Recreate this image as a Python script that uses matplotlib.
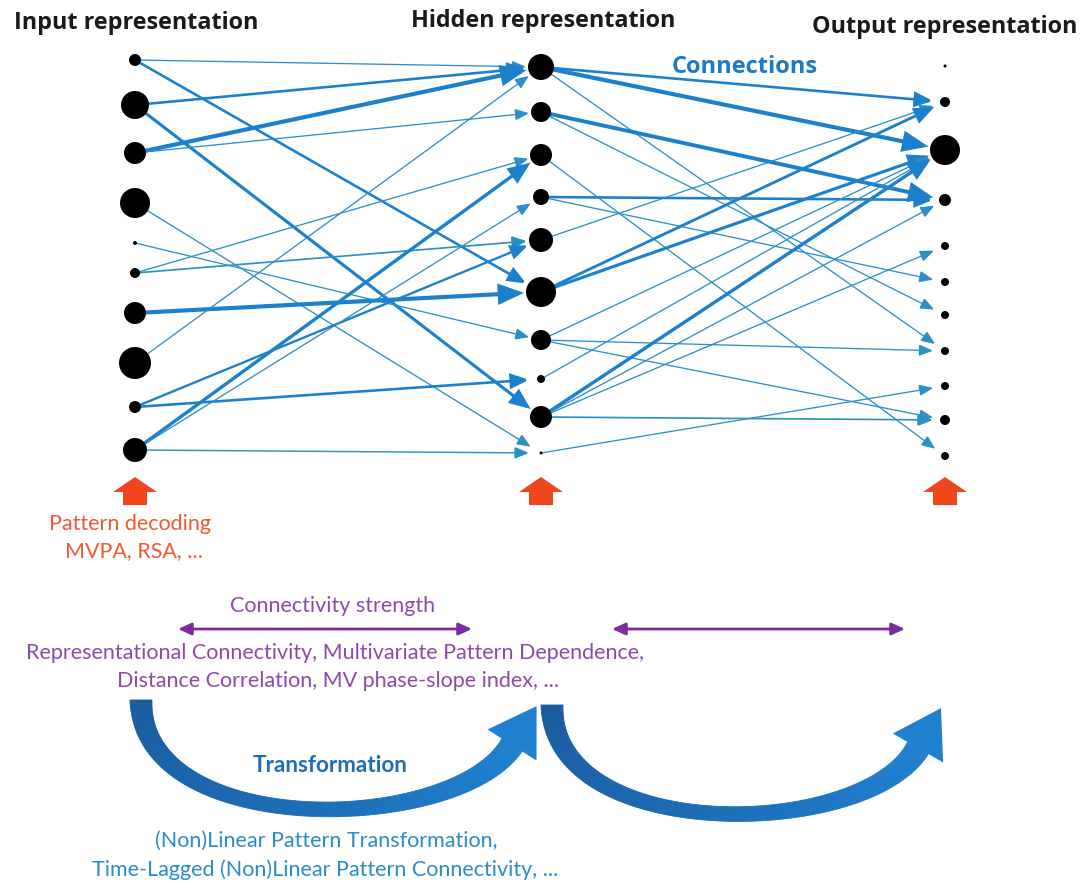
import numpy as np
import matplotlib
matplotlib.use("Agg")
import matplotlib.pyplot as plt
from matplotlib.patches import FancyArrowPatch, FancyArrow, Polygon
from matplotlib.collections import PolyCollection
from matplotlib.colors import to_rgb

# ---------------- data ----------------
layer_titles = ["Input representation", "Hidden representation", "Output representation"]

# node vertical positions and activation (node radius)
input_pos = [60, 105, 153, 203, 243, 273, 313, 363, 407, 450]
input_act = [6, 14, 11, 15, 2, 5, 11, 16, 6, 12]
hidden_pos = [67, 112, 155, 197, 240, 292, 340, 379, 417, 453]
hidden_act = [13, 10, 11, 8, 12, 15, 10, 4, 11, 1.5]
output_pos = [66, 102, 150, 200, 246, 282, 315, 351, 386, 420, 456]
output_act = [1.5, 5, 15, 6, 4, 4, 4, 4, 4, 5, 4]

# connections: (source index, target index, strength)
edges_in_hid = [(0, 0, 1), (0, 5, 2), (1, 0, 2), (1, 8, 2.4), (2, 0, 3.2), (2, 1, 1),
                (3, 9, 1), (4, 6, 1), (5, 2, 1), (5, 4, 1.3), (6, 5, 3.2), (7, 0, 1),
                (8, 4, 1.8), (8, 7, 2), (9, 2, 2.6), (9, 3, 1), (9, 9, 1.1)]
edges_hid_out = [(0, 1, 2), (0, 2, 3.2), (0, 7, 1), (1, 3, 3), (1, 6, 1), (2, 10, 1),
                 (3, 3, 2), (3, 5, 1), (4, 1, 1), (5, 1, 2.2), (5, 2, 2.4), (6, 2, 1),
                 (6, 7, 1), (6, 9, 1), (7, 2, 1), (8, 2, 2.6), (8, 3, 1), (8, 4, 1),
                 (8, 9, 1.3), (9, 8, 1)]

decoding_lines = ["Pattern decoding", "MVPA, RSA, ..."]
strength_title = "Connectivity strength"
strength_lines = ["Representational Connectivity, Multivariate Pattern Dependence,",
                  "Distance Correlation, MV phase-slope index, ..."]
transform_title = "Transformation"
transform_lines = ["(Non)Linear Pattern Transformation,",
                   "Time-Lagged (Non)Linear Pattern Connectivity, ..."]
connections_label = "Connections"

# ---------------- layout / style ----------------
W, H = 1081, 888
PT = 0.72  # points per pixel at dpi 100
LAYER_X = [135, 541, 945]
EDGE_COL = "#1c80cc"
THIN_COL = "#2b8fc8"

fig = plt.figure(figsize=(W / 100, H / 100), dpi=100)
ax = fig.add_axes([0, 0, 1, 1])
ax.set_xlim(0, W)
ax.set_ylim(H, 0)
ax.axis("off")

layers = [(input_pos, input_act), (hidden_pos, hidden_act), (output_pos, output_act)]


def draw_edges(edges, li):
    src_pos, _ = layers[li]
    dst_pos, dst_act = layers[li + 1]
    x0, x1 = LAYER_X[li], LAYER_X[li + 1]
    for s, d, w in edges:
        lw_px = 1.3 * w
        hl = (8.5 + 3.2 * w) * PT
        hw = (3.5 + 1.3 * w) * PT
        shrink = max(12, dst_act[d] + 2) * PT
        col = THIN_COL if w < 1.5 else EDGE_COL
        ar = FancyArrowPatch((x0, src_pos[s]), (x1, dst_pos[d]),
                             arrowstyle=f"-|>,head_length={hl},head_width={hw}",
                             mutation_scale=1, lw=lw_px * PT, color=col,
                             shrinkA=0, shrinkB=shrink, zorder=2,
                             joinstyle="miter", capstyle="butt")
        ax.add_patch(ar)


draw_edges(edges_in_hid, 0)
draw_edges(edges_hid_out, 1)

for li, (pos, act) in enumerate(layers):
    r = np.asarray(act, dtype=float)
    ax.scatter([LAYER_X[li]] * len(pos), pos, s=(2 * r * PT) ** 2, c="black",
               linewidths=0, zorder=5)

# titles
hfont = dict(family="Open Sans", weight="bold", fontsize=16.8, color="#1a1a1a")
ax.text(14, 29, layer_titles[0], ha="left", va="baseline", **hfont)
ax.text(543, 27, layer_titles[1], ha="center", va="baseline", **hfont)
ax.text(945, 33, layer_titles[2], ha="center", va="baseline", **hfont)
ax.text(745, 73, connections_label, ha="center", va="baseline", family="Open Sans",
        weight="bold", fontsize=17, color="#1a7cc8")

# red decoding arrows
for x in LAYER_X:
    ax.add_patch(FancyArrow(x, 505, 0, -28, width=24, head_width=44, head_length=15,
                            length_includes_head=True, color="#f0461e", lw=0, zorder=3))

tfont = dict(family="Lato", fontsize=15.5)
ax.text(130, 524, decoding_lines[0], ha="center", va="center", color="#f05a32", **tfont)
ax.text(134, 551, decoding_lines[1], ha="center", va="center", color="#f05a32", **tfont)

PURPLE = "#8e4aaa"
ax.text(333, 606, strength_title, ha="center", va="center", color=PURPLE, **tfont)
for xa, xb in [(178, 472), (612, 905)]:
    ax.add_patch(FancyArrowPatch((xa, 629), (xb, 629),
                                 arrowstyle=f"<|-|>,head_length={11*PT},head_width={5*PT}",
                                 mutation_scale=1, lw=2.8 * PT, color="#7b2d9e",
                                 shrinkA=0, shrinkB=0))
ax.text(335, 653, strength_lines[0], ha="center", va="center", color=PURPLE, **tfont)
ax.text(338, 681, strength_lines[1], ha="center", va="center", color=PURPLE, **tfont)

ax.text(330, 765, transform_title, ha="center", va="center", family="Lato",
        weight="bold", fontsize=16.2, color="#1f6db5")
ax.text(326, 841, transform_lines[0], ha="center", va="center", color="#2a8cc8", **tfont)
ax.text(325, 870, transform_lines[1], ha="center", va="center", color="#2a8cc8", **tfont)


# big curved transformation arrows
def curved_arrow(P, w0, wm, w1, head_w, head_len, c0, c1):
    P = np.asarray(P, dtype=float)
    t = np.linspace(0, 1, 120)
    B = ((1 - t) ** 3)[:, None] * P[0] + (3 * (1 - t) ** 2 * t)[:, None] * P[1] + \
        (3 * (1 - t) * t ** 2)[:, None] * P[2] + (t ** 3)[:, None] * P[3]
    D = (3 * (1 - t) ** 2)[:, None] * (P[1] - P[0]) + (6 * (1 - t) * t)[:, None] * (P[2] - P[1]) + \
        (3 * t ** 2)[:, None] * (P[3] - P[2])
    D /= np.linalg.norm(D, axis=1)[:, None]
    N = np.stack([-D[:, 1], D[:, 0]], axis=1)
    w = w0 * (1 - t) ** 2 + wm * 2 * t * (1 - t) + w1 * t ** 2
    L = B + N * (w / 2)[:, None]
    R = B - N * (w / 2)[:, None]
    c0, c1 = np.array(to_rgb(c0)), np.array(to_rgb(c1))
    quads, cols = [], []
    for i in range(len(t) - 1):
        quads.append([L[i], L[i + 1], R[i + 1], R[i]])
        tm = (t[i] + t[i + 1]) / 2
        cols.append(c0 * (1 - tm) + c1 * tm)
    pc = PolyCollection(quads, facecolors=cols, edgecolors=cols, linewidths=0.6, zorder=3)
    ax.add_collection(pc)
    d = D[-1]
    n = N[-1]
    base = B[-1]
    tip = base + d * head_len
    ax.add_patch(Polygon([base + n * head_w / 2, tip, base - n * head_w / 2],
                         closed=True, color=c1, lw=0, zorder=3))


curved_arrow([(141, 700), (141, 840), (455, 835), (512, 745)], 22, 6, 24, 58, 46,
             "#1a5c9e", "#2080d0")
curved_arrow([(552, 705), (552, 845), (865, 840), (918, 748)], 22, 6, 24, 58, 46,
             "#1a5c9e", "#2080d0")

fig.savefig("out.png", dpi=100)
